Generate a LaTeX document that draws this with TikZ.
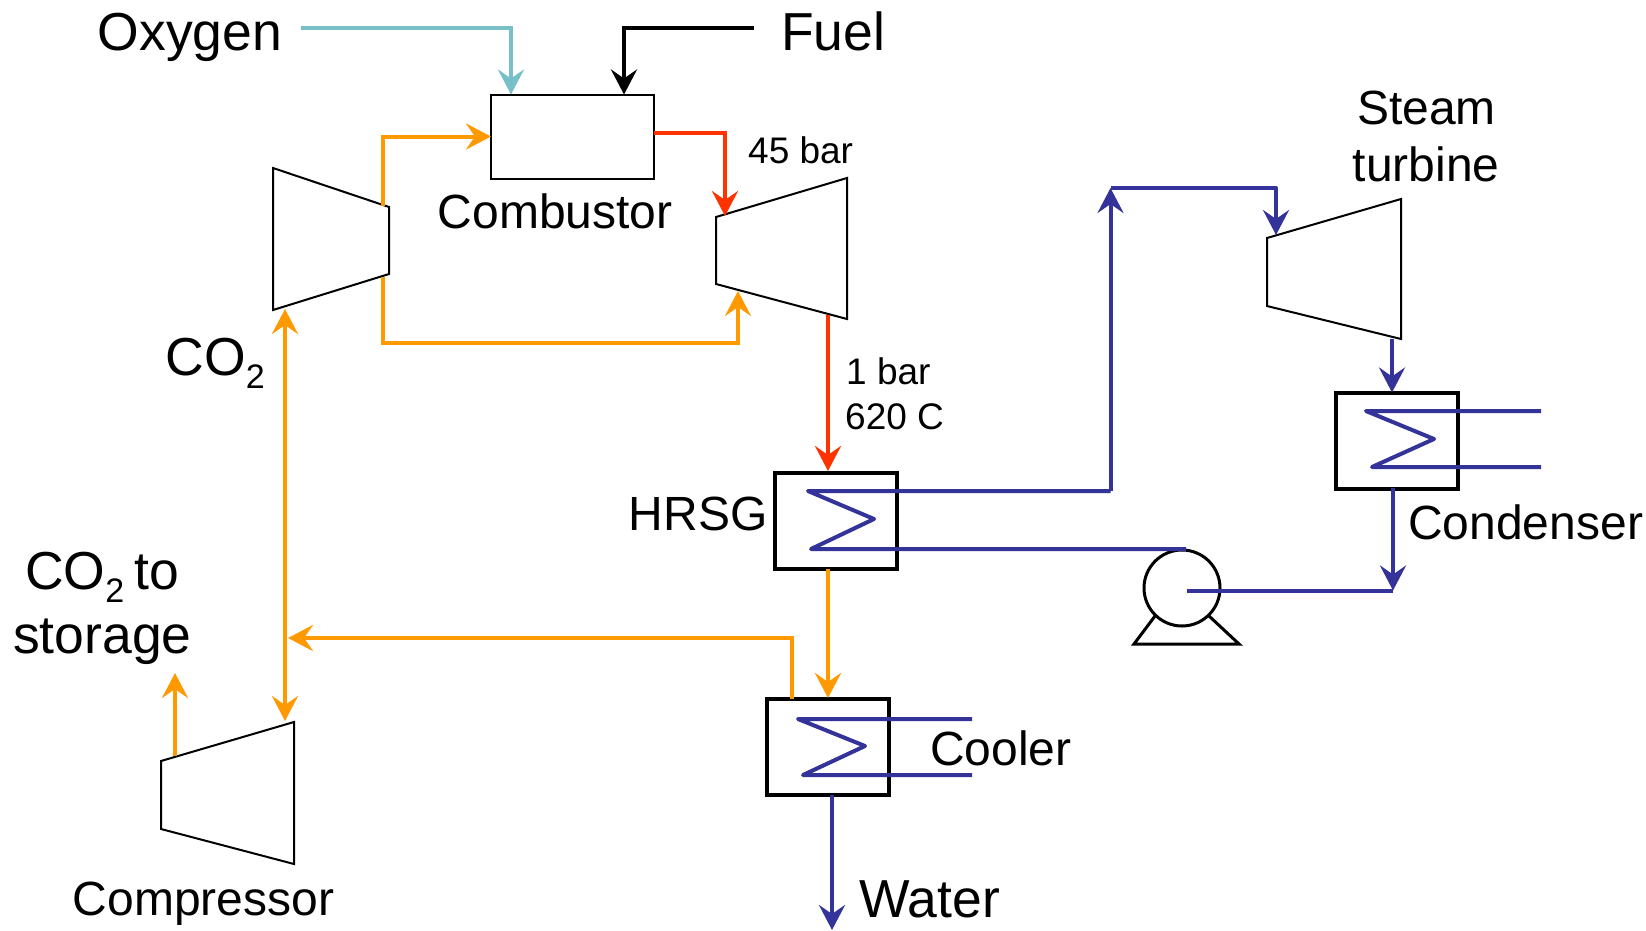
\documentclass[tikz,border=0pt]{standalone}
\usepackage{fontspec}
\setmainfont{Liberation Sans}
\usetikzlibrary{arrows.meta,positioning}
\definecolor{OxygenCyan}{RGB}{120,192,200}
\definecolor{FlueOrange}{RGB}{255,153,0}
\definecolor{HotRed}{RGB}{255,51,0}
\definecolor{SteamBlue}{RGB}{51,51,153}
\newcommand{\cotwo}{CO\raisebox{-13pt}{\fontsize{34}{34}\selectfont 2}}
\tikzset{
  bigtext/.style={anchor=base west,inner sep=0pt,font=\fontsize{53.5}{53.5}\selectfont},
  midtext/.style={anchor=base west,inner sep=0pt,font=\fontsize{48}{48}\selectfont},
  smalltext/.style={anchor=base west,inner sep=0pt,font=\fontsize{37}{37}\selectfont},
  burner/.style={draw,line width=2pt,minimum width=163pt,minimum height=84pt,inner sep=0pt,outer sep=0pt},
  exchanger/.style={draw,line width=4pt,minimum width=122pt,minimum height=96pt,inner sep=0pt,outer sep=0pt},
  pumpbody/.style={circle,draw,line width=3pt,minimum size=76pt,inner sep=0pt,outer sep=0pt},
  machine/.style={line width=2pt,line join=miter},
  tip/.style={-{Stealth[length=25pt,width=26pt,inset=9pt]}},
  oxygenline/.style={line width=4pt,OxygenCyan},
  fuelline/.style={line width=4pt,black},
  flueline/.style={line width=4pt,FlueOrange},
  hotline/.style={line width=4pt,HotRed},
  steamline/.style={line width=4pt,SteamBlue,line join=round}
}
\begin{document}
\begin{tikzpicture}[x=1pt,y=-1pt]
  \useasboundingbox (0,0) rectangle (1646,930);
  \node[burner] (comb) at (572.5,136.5) {};
  \node[exchanger] (hrsg) at (836,521) {};
  \node[exchanger] (cooler) at (828,746.5) {};
  \node[exchanger] (cond) at (1397,440.5) {};
  \node[pumpbody] (pump) at (1182,588) {};

  \draw[machine] (273,168) -- (389,207) -- (389,274) -- (273,310) -- cycle;
  \draw[machine] (716,217) -- (847,178) -- (847,319) -- (716,284) -- cycle;
  \draw[machine] (1267,238) -- (1401,199) -- (1401,339) -- (1267,306) -- cycle;
  \draw[machine] (161,761) -- (294,722) -- (294,864) -- (161,829) -- cycle;
  \draw[line width=3pt] (1155,616) -- (1134,644) -- (1239,644) -- (1209,616);

  \coordinate (oxystart) at (301,28);
  \coordinate (oxyend) at (511,94.5);
  \coordinate (fuelstart) at (754,28);
  \coordinate (fuelend) at (624,94.5);
  \coordinate (gasup) at (382.5,206);
  \coordinate (gasdown) at (382.5,277);
  \coordinate (gasback) at (738,291);
  \coordinate (burnout) at (654,133);
  \coordinate (hotin) at (725,216);
  \coordinate (hotout) at (828,315);
  \coordinate (hrsgin) at (828,471);
  \coordinate (hrsgout) at (828,569);
  \coordinate (coolin) at (828,698);
  \coordinate (coolback) at (792,699);
  \coordinate (junction) at (288,638);
  \coordinate (busup) at (285,309);
  \coordinate (busdown) at (285,721);
  \coordinate (storeout) at (175,756);
  \coordinate (storeend) at (175,673);
  \coordinate (waterend) at (832,930);
  \coordinate (riser) at (1110.5,491);
  \coordinate (risertop) at (1110.5,188);
  \coordinate (steamin) at (1276,235);
  \coordinate (steamout) at (1392,338.5);
  \coordinate (condout) at (1393,488);
  \coordinate (pumpend) at (1393,590.5);
  \coordinate (pumpin) at (1187,590.5);

  \draw[oxygenline,tip] (oxystart) -| (oxyend);
  \draw[fuelline,tip] (fuelstart) -| (fuelend);
  \draw[flueline,tip] (gasup) |- (comb.west);
  \draw[flueline,tip] (gasdown) |- (738,343) -- (gasback);
  \draw[hotline,tip] (burnout) -| (hotin);
  \draw[hotline,tip] (hotout) -- (hrsgin);
  \draw[flueline,tip] (hrsgout) -- (coolin);
  \draw[flueline,tip] (coolback) |- (junction);
  \draw[flueline,{Stealth[length=25pt,width=26pt,inset=9pt]}-{Stealth[length=25pt,width=26pt,inset=9pt]}] (busup) -- (busdown);
  \draw[flueline,tip] (storeout) -- (storeend);
  \draw[steamline,tip] (cooler.south -| waterend) -- (waterend);

  \draw[steamline] (riser) -- (808,491) -- (874,519) -- (811,549) -- (1186,549);
  \draw[steamline,tip] (riser) -- (risertop);
  \draw[steamline,tip] (risertop) -| (steamin);
  \draw[steamline,tip] (steamout) -- (cond.north -| steamout);
  \draw[steamline,tip] (condout) -- (pumpend);
  \draw[steamline] (pumpend) -- (pumpin);
  \draw[steamline] (1541,411) -- (1366,411) -- (1434,439) -- (1372,467) -- (1541,467);
  \draw[steamline] (972,719) -- (798,719) -- (865,746) -- (803,775) -- (972,775);

  \node[bigtext] (oxygen) at (97.5,50) {Oxygen};
  \node[bigtext] (fuel) at (781,50) {Fuel};
  \node[smalltext] (highp) at (748,163) {45 bar};
  \node[midtext] (comblabel) at (437.5,228) {Combustor};
  \node[bigtext] (co2) at (165.5,375) {\cotwo};
  \node[smalltext] (lowp) at (846,384) {1 bar};
  \node[smalltext] (temp) at (845,429) {620 C};
  \node[midtext] (steam) at (1357,124) {Steam};
  \node[midtext] (turbine) at (1352.5,181) {turbine};
  \node[midtext] (condlabel) at (1408,539) {Condenser};
  \node[midtext] (hrsglabel) at (628.5,530) {HRSG};
  \node[bigtext] (co2store) at (25,589.5) {\cotwo\hspace{10pt}to};
  \node[bigtext] (storage) at (13,653.5) {storage};
  \node[midtext] (coollabel) at (930,765) {Cooler};
  \node[midtext] (compressor) at (72.5,915) {Compressor};
  \node[bigtext] (water) at (859,917) {Water};
\end{tikzpicture}
\end{document}
